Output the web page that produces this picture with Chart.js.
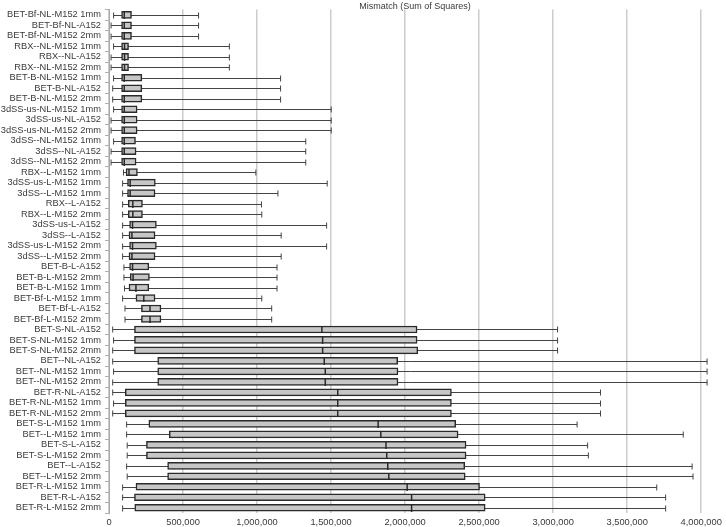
<!DOCTYPE html>
<html>
<head>
<meta charset="utf-8">
<script src="https://cdn.jsdelivr.net/npm/chart.js@4/dist/chart.umd.min.js"></script>
<style>
  html, body { margin: 0; padding: 0; background: #fff; }
  #wrap { width: 726px; height: 527px; }
</style>
</head>
<body>
<div id="wrap"><canvas id="chart"></canvas></div>
<script>
const labels = [
  'BET-Bf-NL-M152 1mm', 'BET-Bf-NL-A152', 'BET-Bf-NL-M152 2mm',
  'RBX--NL-M152 1mm', 'RBX--NL-A152', 'RBX--NL-M152 2mm',
  'BET-B-NL-M152 1mm', 'BET-B-NL-A152', 'BET-B-NL-M152 2mm',
  '3dSS-us-NL-M152 1mm', '3dSS-us-NL-A152', '3dSS-us-NL-M152 2mm',
  '3dSS--NL-M152 1mm', '3dSS--NL-A152', '3dSS--NL-M152 2mm',
  'RBX--L-M152 1mm', '3dSS-us-L-M152 1mm', '3dSS--L-M152 1mm',
  'RBX--L-A152', 'RBX--L-M152 2mm', '3dSS-us-L-A152',
  '3dSS--L-A152', '3dSS-us-L-M152 2mm', '3dSS--L-M152 2mm',
  'BET-B-L-A152', 'BET-B-L-M152 2mm', 'BET-B-L-M152 1mm',
  'BET-Bf-L-M152 1mm', 'BET-Bf-L-A152', 'BET-Bf-L-M152 2mm',
  'BET-S-NL-A152', 'BET-S-NL-M152 1mm', 'BET-S-NL-M152 2mm',
  'BET--NL-A152', 'BET--NL-M152 1mm', 'BET--NL-M152 2mm',
  'BET-R-NL-A152', 'BET-R-NL-M152 1mm', 'BET-R-NL-M152 2mm',
  'BET-S-L-M152 1mm', 'BET--L-M152 1mm', 'BET-S-L-A152',
  'BET-S-L-M152 2mm', 'BET--L-A152', 'BET--L-M152 2mm',
  'BET-R-L-M152 1mm', 'BET-R-L-A152', 'BET-R-L-M152 2mm',
];

// box plot statistics, in thousands
const mins = [
  31, 14, 14, 31, 14, 14, 31, 25, 25, 31, 14, 14, 31, 14, 14,
  98, 92, 92, 92, 92, 92, 92, 92, 92, 101, 101, 105, 92, 108, 108,
  25, 31, 25, 25, 31, 25, 25, 31, 25,
  119, 119, 123, 123, 119, 123, 92, 92, 92,
];
const q1s = [
  85, 85, 85, 85, 85, 85, 85, 85, 85, 85, 85, 85, 85, 85, 85,
  115, 125, 125, 130, 130, 139, 135, 139, 135, 139, 143, 135, 182, 219, 219,
  172, 172, 172, 329, 329, 329, 110, 110, 110,
  269, 407, 253, 253, 396, 396, 182, 172, 174,
];
const medians = [
  103, 103, 103, 105, 105, 105, 103, 103, 103, 103, 103, 103, 103, 103, 103,
  135, 143, 143, 161, 161, 159, 155, 159, 155, 159, 163, 182, 235, 277, 277,
  1438, 1443, 1443, 1454, 1461, 1461, 1545, 1545, 1545,
  1818, 1836, 1871, 1876, 1883, 1890, 2014, 2044, 2044,
];
const q3s = [
  152, 152, 152, 132, 132, 132, 222, 222, 222, 190, 190, 190, 179, 183, 183,
  192, 313, 311, 226, 226, 320, 311, 320, 311, 269, 273, 269, 311, 351, 351,
  2081, 2081, 2086, 1950, 1952, 1952, 2313, 2313, 2313,
  2342, 2358, 2412, 2412, 2403, 2406, 2503, 2541, 2541,
];
const maxs = [
  605, 605, 605, 813, 813, 813, 1159, 1159, 1159, 1501, 1501, 1501, 1329, 1329, 1329,
  992, 1474, 1141, 1030, 1032, 1470, 1163, 1470, 1163, 1135, 1135, 1135, 1032, 1099, 1099,
  3030, 3030, 3030, 4040, 4040, 4040, 3320, 3320, 3320,
  3162, 3879, 3233, 3238, 3939, 3945, 3700, 3760, 3760,
];

const xTicks = [0, 500000, 1000000, 1500000, 2000000, 2500000, 3000000, 3500000, 4000000];
const xMax = 4135000;

const FONT = '"Liberation Sans", Arial, sans-serif';
const TEXT_COLOR = '#3a3a3a';
const BOX_FILL = '#c6c6c6';
const BOX_EDGE = '#2a2a2a';
const WHISKER = '#444444';

const k = (v) => v * 1000;

// whiskers go under the boxes, medians on top
const boxWhiskers = {
  id: 'boxWhiskers',
  beforeDatasetsDraw(chart) {
    const { ctx, scales: { x, y } } = chart;
    ctx.save();
    ctx.strokeStyle = WHISKER;
    ctx.lineWidth = 1;
    labels.forEach((_, i) => {
      const cy = Math.round(y.getPixelForValue(i)) + 0.5;
      const x0 = x.getPixelForValue(k(mins[i]));
      const x1 = x.getPixelForValue(k(maxs[i]));
      ctx.beginPath();
      ctx.moveTo(x0, cy);
      ctx.lineTo(x1, cy);
      ctx.moveTo(x0, cy - 3);
      ctx.lineTo(x0, cy + 3);
      ctx.moveTo(x1, cy - 3);
      ctx.lineTo(x1, cy + 3);
      ctx.stroke();
    });
    ctx.restore();
  },
  afterDatasetsDraw(chart) {
    const { ctx, scales: { x, y } } = chart;
    ctx.save();
    ctx.strokeStyle = BOX_EDGE;
    ctx.lineWidth = 1.5;
    labels.forEach((_, i) => {
      const cy = Math.round(y.getPixelForValue(i)) + 0.5;
      const mx = x.getPixelForValue(k(medians[i]));
      ctx.beginPath();
      ctx.moveTo(mx, cy - 3.5);
      ctx.lineTo(mx, cy + 3.5);
      ctx.stroke();
    });
    ctx.restore();
  },
};

const data = {
  labels,
  datasets: [{
    label: 'Mismatch',
    data: labels.map((_, i) => [k(q1s[i]), k(q3s[i])]),
    backgroundColor: BOX_FILL,
    borderColor: BOX_EDGE,
    borderWidth: 1.5,
    borderSkipped: false,
    barThickness: 7,
  }],
};

const config = {
  type: 'bar',
  data,
  plugins: [boxWhiskers],
  options: {
    indexAxis: 'y',
    responsive: true,
    maintainAspectRatio: false,
    animation: false,
    layout: { padding: 0 },
    scales: {
      x: {
        min: 0,
        max: xMax,
        afterBuildTicks: (scale) => {
          scale.ticks = xTicks.map((value) => ({ value }));
        },
        afterFit: (scale) => { scale.height = 14; },
        ticks: {
          color: TEXT_COLOR,
          padding: 4,
          maxRotation: 0,
          autoSkip: false,
          font: { family: FONT, size: 9.3 },
          callback: (v) => Number(v).toLocaleString('en-US'),
        },
        grid: { color: '#cccccc', lineWidth: 1.5, drawTicks: false },
        border: { display: false },
      },
      y: {
        afterFit: (scale) => { scale.width = 109; },
        ticks: {
          color: TEXT_COLOR,
          padding: 4,
          autoSkip: false,
          font: { family: FONT, size: 9.3 },
        },
        grid: { drawOnChartArea: false, color: '#b0b0b0', tickLength: 4 },
        border: { display: true, color: '#a8a8a8', width: 1 },
      },
    },
    plugins: {
      legend: { display: false },
      tooltip: { enabled: false },
      title: {
        display: true,
        text: 'Mismatch (Sum of Squares)',
        fullSize: false,
        color: TEXT_COLOR,
        font: { family: FONT, size: 9, weight: 'normal', lineHeight: 1 },
        padding: { top: 0, bottom: -1 },
      },
    },
  },
};

window.addEventListener('DOMContentLoaded', () => {
  new Chart(document.getElementById('chart'), config);
});
</script>
</body>
</html>
